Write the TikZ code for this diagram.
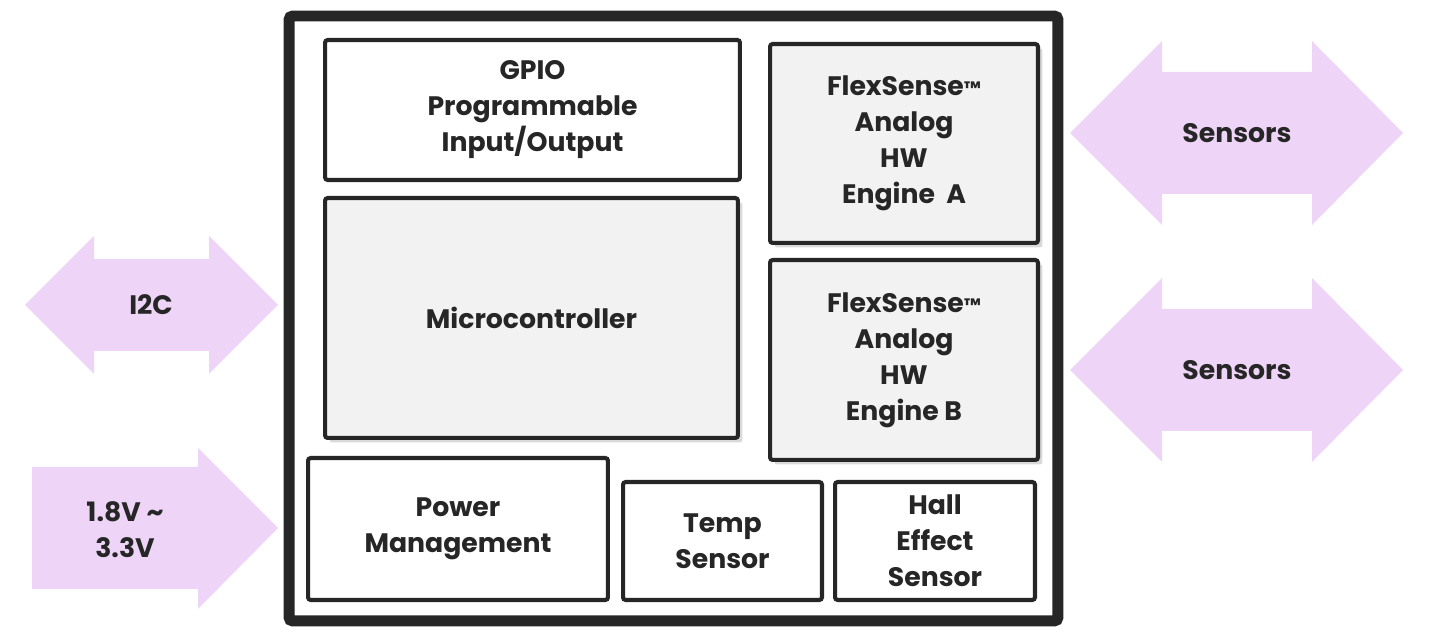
\documentclass[tikz,border=0pt]{standalone}
\usepackage{fontspec}
\setmainfont{Poppins}
\usepackage{tikz}
\usetikzlibrary{positioning,shadows}
\definecolor{lav}{HTML}{EED5F8}
\definecolor{ink}{HTML}{262626}
\definecolor{panel}{HTML}{F2F2F2}

\begin{document}
\begin{tikzpicture}[
  x=0.02cm, y=-0.02cm,
  txt/.style={font=\bfseries\fontsize{15.2}{20.5}\selectfont, text=ink, align=center},
  box/.style={txt, draw=ink, line width=2.3pt, rounded corners=1.5pt, fill=white, inner sep=0pt},
  block/.style={box, fill=panel, drop shadow={shadow xshift=0.09cm, shadow yshift=-0.09cm, opacity=0.3}},
  flow/.style={fill=lav}
]
\useasboundingbox (0,0) rectangle (1430,644);

% chip outline
\node[draw=ink, line width=6.2pt, rounded corners=2pt, minimum width=15.38cm, minimum height=12.1cm, inner sep=0pt] (chip) at (673.5,318.5) {};

% blocks inside the chip
\node[box, minimum width=8.3cm, minimum height=2.8cm] (gpio) at (532.5,110) {GPIO\\Programmable\\Input/Output};
\node[block, minimum width=8.26cm, minimum height=4.8cm] (mcu) at (531.5,318) {Microcontroller};
\node[block, minimum width=5.36cm, minimum height=3.98cm] (enga) at (904,143.5) {FlexSense{\fontsize{11}{11}\selectfont™}\\Analog\\HW\\Engine~~A};
\node[block, minimum width=5.36cm, minimum height=4cm] (engb) at (904,360) {FlexSense{\fontsize{11}{11}\selectfont™}\\Analog\\HW\\Engine B};
\node[box, minimum width=6cm, minimum height=2.84cm] (power) at (458,529) {Power\\Management};
\node[box, minimum width=3.98cm, minimum height=2.36cm] (temp) at (722.5,541) {Temp\\Sensor};
\node[box, minimum width=4cm, minimum height=2.36cm] (hall) at (935,541) {Hall\\Effect\\Sensor};

% interface arrows
\fill[flow] (25,305) -- (94,236) -- (94,259) -- (209,259) -- (209,236) -- (278,305)
  -- (209,374) -- (209,351) -- (94,351) -- (94,374) -- cycle;
\node[txt] (i2c) at (151,305) {I2C};

\fill[flow] (32,467) -- (198,467) -- (198,448) -- (278,528) -- (198,609) -- (198,589)
  -- (32,589) -- cycle;
\node[txt] (vdd) at (125,530) {1.8V \textasciitilde\\3.3V};

\foreach \y/\n in {133/sensa, 370/sensb} {
  \fill[flow] (1070,\y) -- (1162,\y-92) -- (1162,\y-61) -- (1312,\y-61) -- (1312,\y-92)
    -- (1403,\y) -- (1312,\y+92) -- (1312,\y+61) -- (1162,\y+61) -- (1162,\y+92) -- cycle;
  \node[txt] (\n) at (1237,\y) {Sensors};
}
\end{tikzpicture}
\end{document}
